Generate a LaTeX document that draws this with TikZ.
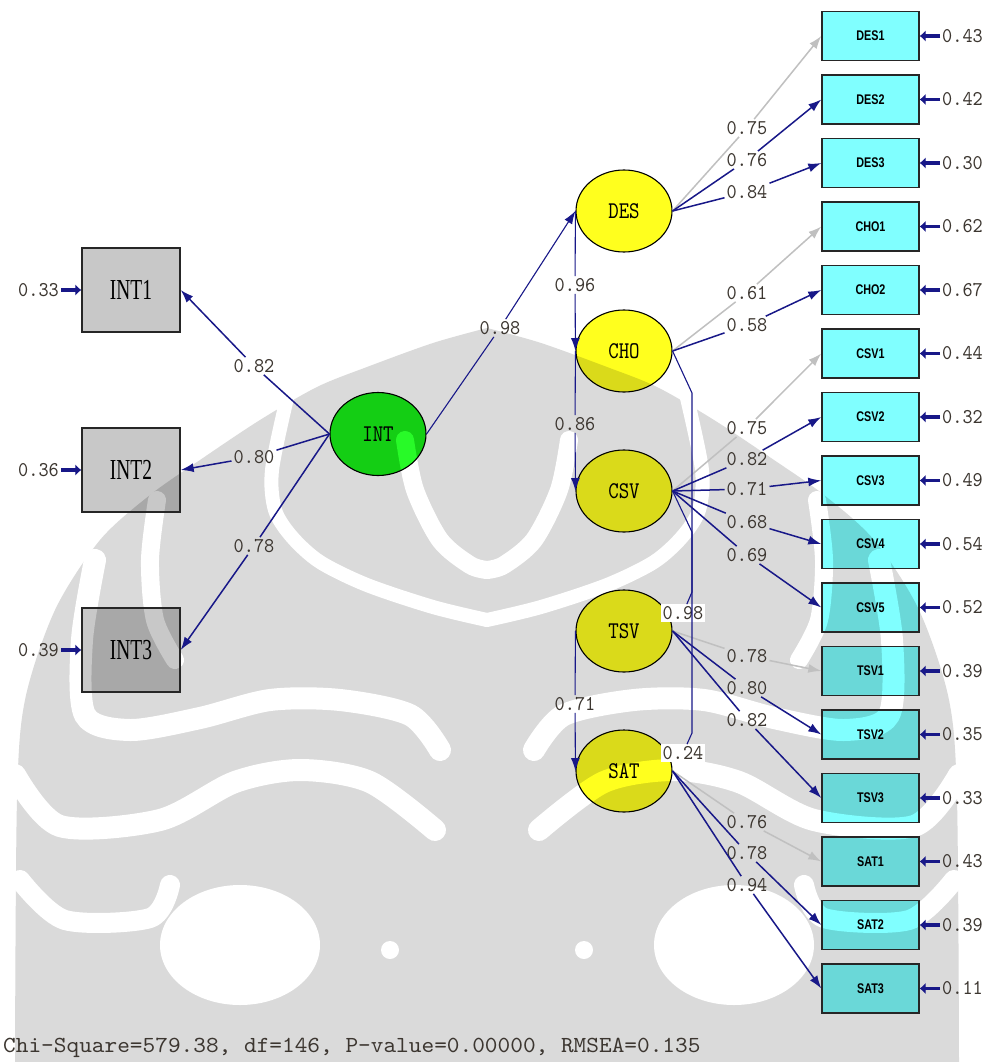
\documentclass[tikz,border=0pt]{standalone}
\usepackage{fontspec}
\usetikzlibrary{arrows.meta,shapes.geometric}

% typewriter faces for numbers and latent names, condensed faces for indicators
\newfontfamily\coeffont[Extension=.otf,FakeStretch=0.92]{lmmono10-regular}
\newfontfamily\fitfont[Extension=.otf,FakeStretch=1.05]{lmmono10-regular}
\newfontfamily\latentfont[Extension=.otf,FakeStretch=0.83]{lmmono10-regular}
\newfontfamily\intfont[FakeStretch=0.67]{Liberation Serif}
\newfontfamily\indfont[FakeStretch=0.77]{Liberation Sans}

\definecolor{pathblue}{RGB}{24,24,136}
\definecolor{fixedgray}{RGB}{192,192,192}
\definecolor{numtext}{RGB}{60,54,48}
\definecolor{latyellow}{RGB}{255,255,30}
\definecolor{latyellowdk}{RGB}{218,218,26}
\definecolor{latgreen}{RGB}{40,250,40}
\definecolor{latgreendk}{RGB}{20,206,20}
\definecolor{indcyan}{RGB}{128,255,255}
\definecolor{indcyandk}{RGB}{106,216,216}
\definecolor{indgray}{RGB}{200,200,200}
\definecolor{indgraydk}{RGB}{168,168,168}
\definecolor{markgray}{RGB}{218,218,218}

% the background emblem: #1 = band colour, #2 = gap colour
\newcommand\emblem[2]{%
  \foreach \s in {1,-1}{%
    \begin{scope}[shift={(487,0)}, xscale=\s]
      \fill[#1] plot[smooth] coordinates {(0,328) (-54,343) (-120,367) (-170,387)
          (-227,420) (-287,460) (-337,495) (-387,540) (-432,610) (-462,700) (-470,800)
          (-472,1062)} -- (0,1062) -- cycle;
      \draw[draw=#2, line cap=round, line join=round, line width=14pt] plot[smooth]
          coordinates {(-200,398) (-215,470) (-212,510) (-195,537) (-167,562) (-120,585)
          (-54,607) (0,620)};
      \draw[draw=#2, line cap=round, line width=18pt] plot[smooth]
          coordinates {(-330,500) (-337,560) (-332,620) (-312,660)};
      \draw[draw=#2, line cap=round, line width=22pt] plot[smooth]
          coordinates {(-392,560) (-405,640) (-402,715) (-357,730) (-287,718) (-217,700)
          (-147,700) (-77,715) (-47,750)};
      \draw[draw=#2, line cap=round, line width=22pt] plot[smooth]
          coordinates {(-472,775) (-427,826) (-327,820) (-252,782) (-187,770) (-117,782)
          (-52,830)};
      \draw[draw=#2, line cap=round, line width=20pt] plot[smooth]
          coordinates {(-467,880) (-422,920) (-337,918) (-317,885)};
      \draw[draw=#2, line cap=round, line width=18pt] plot[smooth]
          coordinates {(-82,440) (-72,490) (-47,540) (-17,565) (0,570)};
      \fill[#2] (-247,945) ellipse [x radius=80, y radius=60];
      \fill[#2] (-97,950) circle [radius=9];
    \end{scope}
  }%
}

\begin{document}
\begin{tikzpicture}[x=1pt,y=-1pt,
  latent/.style={ellipse, draw=black, line width=1.1pt,
    minimum width=96pt, minimum height=82pt, inner sep=0pt,
    font=\latentfont\fontsize{24}{24}\selectfont},
  indicator/.style={rectangle, draw=black!85, line width=1.4pt,
    minimum width=97pt, minimum height=49pt, inner sep=0pt,
    font=\indfont\bfseries\fontsize{14}{14}\selectfont},
  intind/.style={rectangle, draw=black!85, line width=1.4pt,
    minimum width=98pt, minimum height=84pt, inner sep=0pt,
    font=\intfont\fontsize{29}{29}\selectfont},
  coef/.style={font=\coeffont\fontsize{21}{21}\selectfont, text=numtext, inner sep=2pt},
  errlab/.style={coef, anchor=west},
  leftlab/.style={coef, anchor=east},
  link/.style={draw=pathblue, line width=1.5pt},
  thinlink/.style={draw=pathblue, line width=1.1pt},
  fixedlink/.style={draw=fixedgray, line width=1.5pt},
  tipped/.style={-{Latex[length=13pt,width=9pt]}},
  errarrow/.style={draw=pathblue, line width=3.6pt, -{Latex[length=6pt,width=12pt]}}
]
\useasboundingbox (0,0) rectangle (985,1062);
\fill[white] (0,0) rectangle (985,1062);
\emblem{markgray}{white}

% ---------------- node fills, shaded where the emblem lies beneath ----------------
\foreach \k in {0,...,15}{
  \begin{scope}
    \clip (822,11.5+63.5*\k) rectangle (919,60.5+63.5*\k);
    \fill[indcyan] (822,11.5+63.5*\k) rectangle (919,60.5+63.5*\k);
    \emblem{indcyandk}{indcyan}
  \end{scope}
}
\foreach \cy in {290,470,650}{
  \begin{scope}
    \clip (82,\cy-42) rectangle (180,\cy+42);
    \fill[indgray] (82,\cy-42) rectangle (180,\cy+42);
    \emblem{indgraydk}{indgray}
  \end{scope}
}
\foreach \cy in {211,351,491,631,771}{
  \begin{scope}
    \clip (624,\cy) ellipse [x radius=48, y radius=41];
    \fill[latyellow] (624,\cy) ellipse [x radius=48, y radius=41];
    \emblem{latyellowdk}{latyellow}
  \end{scope}
}
\begin{scope}
  \clip (378,434) ellipse [x radius=48, y radius=41.5];
  \fill[latgreen] (378,434) ellipse [x radius=48, y radius=41.5];
  \emblem{latgreendk}{latgreen}
\end{scope}

% ---------------- latent variables ----------------
\node[latent, minimum height=83pt] (INT) at (378,434) {INT};
\node[latent] (DES) at (624,211) {DES};
\node[latent] (CHO) at (624,351) {CHO};
\node[latent] (CSV) at (624,491) {CSV};
\node[latent] (TSV) at (624,631) {TSV};
\node[latent] (SAT) at (624,771) {SAT};

% ---------------- INT indicators ----------------
\node[intind] (INT1) at (131,290) {INT1};
\node[intind] (INT2) at (131,470) {INT2};
\node[intind] (INT3) at (131,650) {INT3};
\node[leftlab] (errINT1) at (61,290) {0.33};
\node[leftlab] (errINT2) at (61,470) {0.36};
\node[leftlab] (errINT3) at (61,650) {0.39};
\foreach \n in {INT1,INT2,INT3}
  \draw[errarrow] (err\n) -- (\n);

\node[coef] (c82) at (254,366) {0.82};
\node[coef] (c80) at (254,457) {0.80};
\node[coef] (c78) at (254,546) {0.78};
\draw[link] (INT.west) -- (c82);
\draw[link,tipped] (c82) -- (INT1.east);
\draw[link] (INT.west) -- (c80);
\draw[link,tipped] (c80) -- (INT2.east);
\draw[link] (INT.west) -- (c78);
\draw[link,tipped] (c78) -- (INT3.east);

% ---------------- right-hand indicators with error terms ----------------
\foreach \n/\e [count=\k from 0] in {DES1/0.43,DES2/0.42,DES3/0.30,CHO1/0.62,CHO2/0.67,
    CSV1/0.44,CSV2/0.32,CSV3/0.49,CSV4/0.54,CSV5/0.52,TSV1/0.39,TSV2/0.35,TSV3/0.33,
    SAT1/0.43,SAT2/0.39,SAT3/0.11}{
  \node[indicator] (\n) at (870.5,36+63.5*\k) {\n};
  \node[errlab] (err\n) at (940,36+63.5*\k) {\e};
  \draw[errarrow] (err\n) -- (\n);
}

% ---------------- loadings ----------------
\foreach \src/\dst/\y/\v/\sty in {
    DES/DES1/128/0.75/fixedlink, DES/DES2/160/0.76/link, DES/DES3/192/0.84/link,
    CHO/CHO1/293/0.61/fixedlink, CHO/CHO2/325/0.58/link,
    CSV/CSV1/428/0.75/fixedlink, CSV/CSV2/459/0.82/link, CSV/CSV3/489/0.71/link,
    CSV/CSV4/522/0.68/link, CSV/CSV5/555/0.69/link,
    TSV/TSV1/656/0.78/fixedlink, TSV/TSV2/688/0.80/link, TSV/TSV3/720/0.82/link,
    SAT/SAT1/822/0.76/fixedlink, SAT/SAT2/853/0.78/link, SAT/SAT3/885/0.94/link}{
  \node[coef] (ld\dst) at (747,\y) {\v};
  \draw[\sty] (\src.east) -- (ld\dst);
  \draw[\sty,tipped] (ld\dst) -- (\dst.west);
}

% ---------------- structural paths ----------------
\node[coef] (s98a) at (500,328) {0.98};
\draw[thinlink] (INT.east) -- (s98a);
\draw[thinlink,tipped] (s98a) -- (DES.west);

\node[coef] (s96) at (575,285) {0.96};
\draw[thinlink] (DES.west) -- (s96);
\draw[thinlink,tipped] (s96) -- (CHO.west);

\node[coef] (s86) at (575,424) {0.86};
\draw[thinlink] (CHO.west) -- (s86);
\draw[thinlink,tipped] (s86) -- (CSV.west);

\node[coef] (s71) at (575,704) {0.71};
\draw[thinlink] (TSV.west) -- (s71);
\draw[thinlink,tipped] (s71) -- (SAT.west);

% paths running down the right side of the latent column
\coordinate (bendA) at (692,393);
\coordinate (bendB) at (692,733);
\coordinate (bendC) at (692,532);
\coordinate (bendD) at (692,592);
\node[coef, fill=white] (s24) at (683,753) {0.24};
\node[coef, fill=white] (s98b) at (683,613) {0.98};
\draw[thinlink] (CHO.east) -- (bendA) -- (bendB) -- (s24);
\draw[thinlink] (CSV.east) -- (bendC) -- (bendD) -- (s98b);

% ---------------- fit statistics ----------------
\node[anchor=base west, inner sep=0pt, text=numtext,
      font=\fitfont\fontsize{23}{23}\selectfont] (fit) at (3,1052)
  {Chi-Square=579.38, df=146, P-value=0.00000, RMSEA=0.135};
\end{tikzpicture}
\end{document}
